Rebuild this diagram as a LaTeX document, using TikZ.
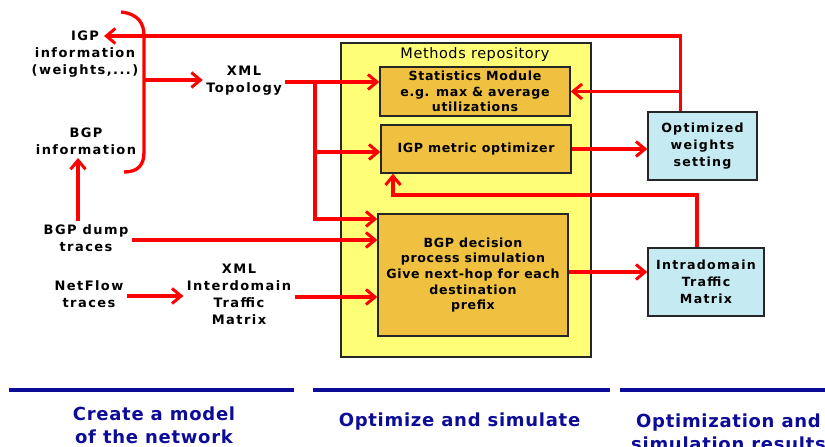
\documentclass[tikz,border=0pt]{standalone}
\usepackage{fontspec}
\setmainfont{DejaVu Sans}
\usetikzlibrary{arrows.meta}
\definecolor{repoyellow}{HTML}{FFFF77}
\definecolor{modorange}{HTML}{F0C040}
\definecolor{resblue}{HTML}{C6EAF2}
\definecolor{phasenavy}{HTML}{0C0C98}
\begin{document}
\begin{tikzpicture}[x=1pt,y=-1pt,
  lbl/.style={align=center,font=\addfontfeature{LetterSpace=11}\fontsize{13}{17}\selectfont\bfseries},
  modbox/.style={draw=black!85,line width=1.4pt,fill=modorange,align=center,
    inner sep=0pt,font=\addfontfeature{LetterSpace=5}\fontsize{12.6}{15.7}\selectfont\bfseries},
  resbox/.style={draw=black!85,line width=1.4pt,fill=resblue,align=center,
    inner sep=0pt,font=\addfontfeature{LetterSpace=10}\fontsize{12.6}{17}\selectfont\bfseries},
  flow/.style={red,line width=3.3pt},
  arr/.style={flow,-{Straight Barb[length=9pt,width=15pt,line width=3pt]}},
  phase/.style={phasenavy,line width=3.3pt},
  phaselbl/.style={align=center,text=phasenavy,font=\addfontfeature{LetterSpace=4}\fontsize{18}{23}\selectfont\bfseries}]
\useasboundingbox (0,0) rectangle (825,447);
% methods repository
\draw[fill=repoyellow,draw=black!85,line width=1.4pt] (341,43) rectangle (591,357);
\node[font=\addfontfeature{LetterSpace=4}\fontsize{14.5}{16}\selectfont] (repo) at (475,54) {Methods repository};
\node[modbox,minimum width=190pt,minimum height=49pt] (stats) at (475,91.5)
  {Statistics Module\\e.g. max \& average\\utilizations};
\node[modbox,minimum width=190pt,minimum height=48pt] (igpopt) at (476,149)
  {IGP metric optimizer};
\node[modbox,minimum width=190pt,minimum height=122pt] (bgp) at (473,275)
  {BGP decision\\process simulation\\Give next-hop for each\\destination\\prefix};
% results
\node[resbox,minimum width=109pt,minimum height=68pt] (optw) at (702.5,146)
  {Optimized\\weights\\setting};
\node[resbox,minimum width=116pt,minimum height=68pt] (intra) at (706,282)
  {Intradomain\\Traffic\\Matrix};
% inputs
\node[lbl] (igpin) at (85,54) {IGP\\information\\(weights,...)};
\node[lbl] (bgpin) at (86,141) {BGP\\information};
\node[lbl] (xmltopo) at (244,81) {XML\\Topology};
\node[lbl] (bgpdump) at (86,238) {BGP dump\\traces};
\node[lbl] (netflow) at (89,294) {NetFlow\\traces};
\node[lbl] (xmlinter) at (239,294) {XML\\Interdomain\\Traffic\\Matrix};
% brace
\draw[flow] (121,12) .. controls (139,14) and (144,24) .. (144,36) -- (144,152)
  .. controls (144,165) and (138,172) .. (124,172);
\coordinate (brace) at (144,80);
\coordinate (igptip) at (104,36);
\coordinate (split) at (315,82);
\coordinate (fb) at (393,195);
% connectors
\draw[arr] (brace) -- (brace -| xmltopo.west);
\draw[arr] ([xshift=-8pt]bgpdump.north) -- ([xshift=-8pt]bgpin.south);
\draw[arr] ([xshift=-22pt]optw.north) |- (igptip);
\draw[arr] ([xshift=-22pt]optw.north |- stats.east) -- (stats.east);
\draw[flow] (xmltopo.east |- split) -- (split);
\draw[arr] (split) -- (split -| stats.west);
\draw[arr] (split |- 0,152) -- (igpopt.west |- 0,152);
\draw[arr] (split) |- (bgp.west |- 0,219);
\draw[arr] (bgpdump.east |- 0,240) -- (bgp.west |- 0,240);
\draw[arr] (netflow.east |- 0,296) -- (xmlinter.west |- 0,296);
\draw[arr] (xmlinter.east |- 0,297) -- (bgp.west |- 0,297);
\draw[arr] (igpopt.east) -- (igpopt.east -| optw.west);
\draw[arr] ([xshift=-9pt]intra.north) |- (fb) -- (fb |- igpopt.south);
\draw[arr] (bgp.east |- 0,272) -- (intra.west |- 0,272);
% phases
\draw[phase] (9,390) -- (294,390);
\draw[phase] (313,390) -- (610,390);
\draw[phase] (620,390) -- (825,390);
\node[phaselbl] (ph1) at (154,425.5) {Create a model\\of the network};
\node[phaselbl] (ph2) at (459.5,421.5) {Optimize and simulate};
\node[phaselbl] (ph3) at (728.5,432.5) {Optimization and\\simulation results};
\end{tikzpicture}
\end{document}
